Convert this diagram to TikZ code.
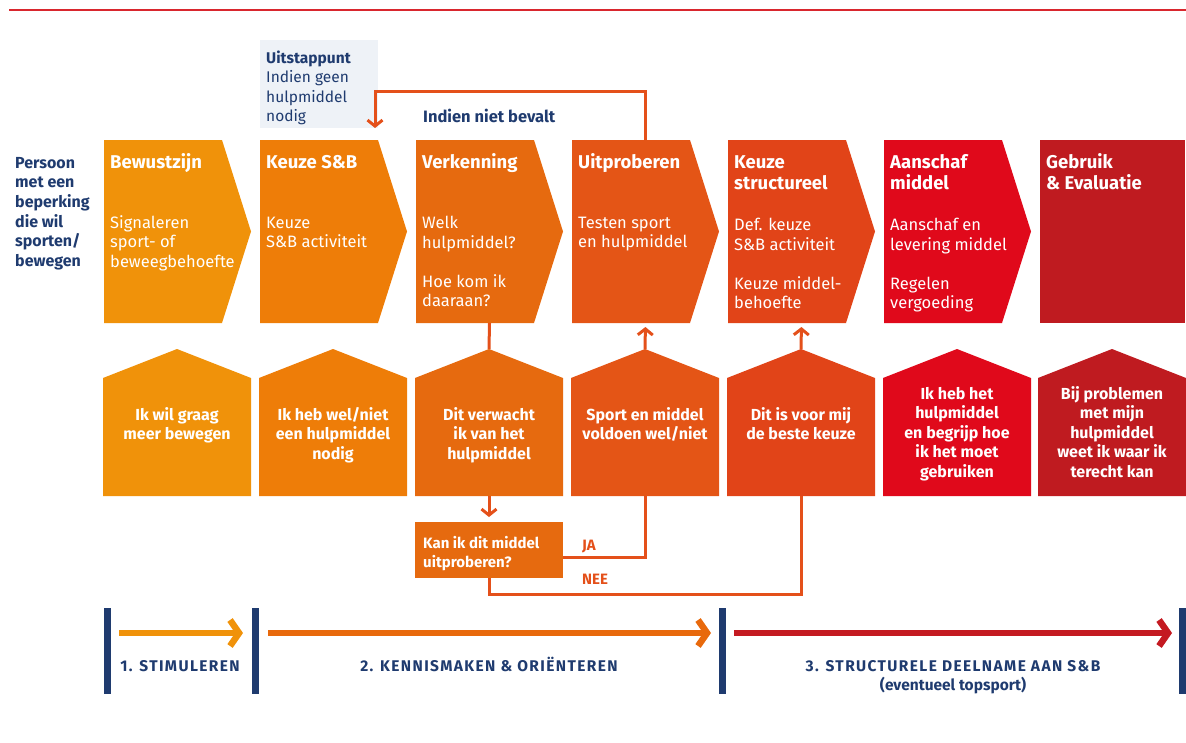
\documentclass[tikz,border=0pt]{standalone}
\usepackage{fontspec}
\setmainfont{Fira Sans}
\usetikzlibrary{arrows.meta}
\definecolor{cA}{HTML}{F0920A}
\definecolor{cB}{HTML}{EE7D08}
\definecolor{cC}{HTML}{E66A0F}
\definecolor{cD}{HTML}{E45516}
\definecolor{cE}{HTML}{E14418}
\definecolor{cF}{HTML}{E0091B}
\definecolor{cG}{HTML}{BF1B20}
\definecolor{navy}{HTML}{1F3B6F}
\definecolor{conn}{HTML}{E4501A}
\definecolor{uitbg}{HTML}{EEF2F7}
\definecolor{topred}{HTML}{D9272E}
\definecolor{tlB}{HTML}{E8690C}
\definecolor{tlC}{HTML}{C41A21}
\newcommand\chevbox[3]{%
  \fill[#3] (#2,140) -- ({#2+118},140) -- ({#2+147},231.5) -- ({#2+118},323) -- (#2,323) -- cycle;
  \node[area] (#1) at ({#2+73.5},231.5) {};}
\newcommand\housebox[3]{%
  \fill[#3] (#2,378) -- ({#2+74},349) -- ({#2+148},378) -- ({#2+148},496) -- (#2,496) -- cycle;
  \node[harea] (#1) at ({#2+74},422.5) {};}
\begin{document}
\begin{tikzpicture}[x=1pt,y=-1pt,
  area/.style={inner sep=0pt,outer sep=0pt,minimum width=147pt,minimum height=183pt},
  harea/.style={inner sep=0pt,outer sep=0pt,minimum width=148pt,minimum height=147pt},
  title/.style={anchor=base west,align=left,text=white,inner sep=0pt,font=\fontsize{18.5}{21.5}\selectfont\bfseries},
  body/.style={anchor=base west,align=left,text=white,inner sep=0pt,font=\fontsize{16.5}{19.5}\selectfont},
  btext/.style={anchor=base,align=center,text=white,inner sep=0pt,font=\fontsize{16}{19.5}\selectfont\bfseries},
  navytext/.style={anchor=base west,align=left,text=navy,inner sep=0pt,font=\fontsize{16}{19.7}\selectfont\bfseries},
  conntext/.style={anchor=base west,text=conn,inner sep=0pt,font=\fontsize{15}{18}\selectfont\bfseries},
  phase/.style={anchor=base,align=center,text=navy,inner sep=0pt,font=\fontsize{15.5}{19}\selectfont\bfseries},
  conn/.style={draw=conn,line width=3pt},
  connarrow/.style={conn,-{Straight Barb[length=6pt,width=15pt,line width=3pt]}},
  bar/.style={fill=navy,inner sep=0pt,outer sep=0pt,minimum width=7pt,minimum height=86pt},
  tl/.style={line width=6.5pt,-{Straight Barb[length=9pt,width=26pt,line width=6.5pt]}}
]
\useasboundingbox (0,0) rectangle (1186,742);
% top red rule
\draw[topred,line width=2.5pt] (9,10) -- (1186,10);

% Uitstappunt box
\node[fill=uitbg,inner sep=0pt,outer sep=0pt,minimum width=118pt,minimum height=88pt] (uit) at (319,84) {};
\node[anchor=base west,align=left,text=navy,inner sep=0pt,font=\fontsize{15.5}{19.5}\selectfont] (uittxt) at (266,121.5)
  {\textbf{Uitstappunt}\\Indien geen\\hulpmiddel\\nodig};

% left label
\node[navytext] (persoon) at (15,266.5) {Persoon\\met een\\beperking\\die wil\\sporten/\\bewegen};
\node[navytext,font=\fontsize{16.5}{19.7}\selectfont\bfseries] (niet) at (423,122) {Indien niet bevalt};

% top row
\chevbox{b1}{104}{cA}
\chevbox{b2}{260}{cB}
\chevbox{b3}{416}{cC}
\chevbox{b4}{572}{cD}
\chevbox{b5}{728}{cE}
\chevbox{b6}{884}{cF}
\fill[cG] (1040,140) rectangle (1185,323);
\node[inner sep=0pt,outer sep=0pt,minimum width=145pt,minimum height=183pt] (b7) at (1112.5,231.5) {};

\node[title] (t1) at (110,168) {Bewustzijn};
\node[body] (d1) at (110,267) {Signaleren\\sport- of\\beweegbehoefte};
\node[title] (t2) at (266,168) {Keuze S\&B};
\node[body] (d2) at (266,247.5) {Keuze\\S\&B activiteit};
\node[title] (t3) at (422,168) {Verkenning};
\node[body] (d3) at (422,306.5) {Welk\\hulpmiddel?\\[19.5pt]Hoe kom ik\\daaraan?};
\node[title] (t4) at (578,168) {Uitproberen};
\node[body] (d4) at (578,247.5) {Testen sport\\en hulpmiddel};
\node[title] (t5) at (734,189.5) {Keuze\\structureel};
\node[body] (d5) at (734,308.5) {Def. keuze\\S\&B activiteit\\[19.5pt]Keuze middel-\\behoefte};
\node[title] (t6) at (890,189.5) {Aanschaf\\middel};
\node[body] (d6) at (890,308.5) {Aanschaf en\\levering middel\\[19.5pt]Regelen\\vergoeding};
\node[title] (t7) at (1046,189.5) {Gebruik\\\& Evaluatie};

% bottom row
\housebox{p1}{103}{cA}
\housebox{p2}{259}{cB}
\housebox{p3}{415}{cC}
\housebox{p4}{571}{cD}
\housebox{p5}{727}{cE}
\housebox{p6}{883}{cF}
\housebox{p7}{1038}{cG}

\node[btext] (q1) at (177,439.5) {Ik wil graag\\meer bewegen};
\node[btext] (q2) at (333,459) {Ik heb wel/niet\\een hulpmiddel\\nodig};
\node[btext] (q3) at (489,459) {Dit verwacht\\ik van het\\hulpmiddel};
\node[btext] (q4) at (645,439.5) {Sport en middel\\voldoen wel/niet};
\node[btext] (q5) at (801,439.5) {Dit is voor mij\\de beste keuze};
\node[btext] (q6) at (957,477) {Ik heb het\\hulpmiddel\\en begrijp hoe\\ik het moet\\gebruiken};
\node[btext] (q7) at (1112,477) {Bij problemen\\met mijn\\hulpmiddel\\weet ik waar ik\\terecht kan};

% decision box
\node[fill=cC,inner sep=0pt,outer sep=0pt,minimum width=148pt,minimum height=56pt] (kan) at (489,550) {};
\node[anchor=base west,align=left,text=white,inner sep=0pt,font=\fontsize{15}{19}\selectfont\bfseries] (kantxt) at (423,567)
  {Kan ik dit middel\\uitproberen?};

% connectors
\draw[conn] (b3.south) -- (p3.north);
\draw[connarrow,shorten >=5pt] (p3.south) -- (kan.north);
\draw[connarrow,shorten >=4pt] (p4.north) -- (b4.south);
\draw[connarrow,shorten >=4pt] (p5.north) -- (b5.south);
\draw[connarrow] (b4.north) -- (b4.north |- 0,91) -| ([xshift=-3pt]uit.south east);
\draw[conn] ([yshift=-7pt]kan.east) -| (p4.south);
\draw[conn] (kan.south) -- ++(0,16) -| (p5.south);
\node[conntext] (ja) at (582,550) {JA};
\node[conntext] (nee) at (582,584) {NEE};

% timeline
\node[bar] (bar1) at (107,651) {};
\node[bar] (bar2) at (255,651) {};
\node[bar] (bar3) at (722,651) {};
\node[bar] (bar4) at (1182,651) {};
\draw[tl,draw=cA,shorten <=8.5pt,shorten >=8.5pt] ([yshift=18pt]bar1.east) -- ([yshift=18pt]bar2.west);
\draw[tl,draw=tlB,shorten <=9.5pt,shorten >=7.5pt] ([yshift=18pt]bar2.east) -- ([yshift=18pt]bar3.west);
\draw[tl,draw=tlC,shorten <=8.5pt,shorten >=6.5pt] ([yshift=18pt]bar3.east) -- ([yshift=18pt]bar4.west);
\node[phase] (ph1) at (180,671) {\addfontfeatures{LetterSpace=9}1. STIMULEREN};
\node[phase] (ph2) at (489,671) {\addfontfeatures{LetterSpace=9}2. KENNISMAKEN \& ORIËNTEREN};
\node[phase] (ph3) at (953,671) {\addfontfeatures{LetterSpace=9}3. STRUCTURELE DEELNAME AAN S\&B};
\node[phase] (ph3b) at (953,690) {(eventueel topsport)};
\end{tikzpicture}
\end{document}
